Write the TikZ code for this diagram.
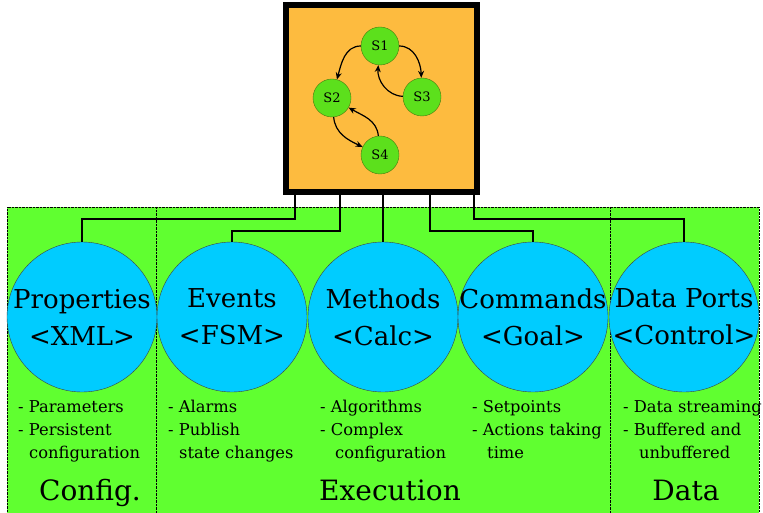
\documentclass[tikz,border=0pt]{standalone}
\usepackage{fontspec}
\setmainfont{DejaVu Serif}
\usetikzlibrary{arrows.meta}

\definecolor{fsmorange}{HTML}{FDBB3F}
\definecolor{layergreen}{HTML}{60FF30}
\definecolor{partcyan}{HTML}{00CCFF}
\definecolor{stategreen}{HTML}{5CE01C}
\definecolor{stateedge}{HTML}{4A7A10}

\tikzset{
  part/.style={circle, draw=black!75, fill=partcyan, minimum size=150pt, inner sep=0pt},
  partname/.style={align=center, inner sep=0pt, font=\fontsize{26}{37}\selectfont},
  state/.style={circle, draw=stateedge, fill=stategreen, minimum size=38pt, inner sep=0pt, font=\fontsize{13}{14}\selectfont},
  trans/.style={-{Stealth[length=7pt,width=6pt]}, line width=1.2pt},
  wire/.style={line width=2.4pt},
  notes/.style={anchor=north west, inner sep=0pt, align=left, font=\fontsize{16.3}{23}\selectfont},
  layer/.style={anchor=base, font=\fontsize{28}{30}\selectfont},
}

\begin{document}
\begin{tikzpicture}[x=1pt,y=-1pt]
\useasboundingbox (0,0) rectangle (763,513);

% green band with the three layers
\fill[layergreen] (7,207) rectangle (759,513);
\draw[densely dotted] (7,513) -- (7,207) -- (759,207) -- (759,513);
\draw[densely dotted] (156,207) -- (156,513);
\draw[densely dotted] (610,207) -- (610,513);

% component parts
\foreach \part/\x/\name/\lang in {props/82/Properties/XML, events/232/Events/FSM,
    meths/383/Methods/Calc, cmds/533/Commands/Goal, data/684/Data Ports/Control}{
  \node[part] (\part) at (\x,317) {};
  \node[partname] (\part name) at (\part) {\name\\<\lang>};
}

% state machine on top
\node[draw, line width=5.5pt, fill=fsmorange, minimum width=191pt, minimum height=187pt, inner sep=0pt] (fsm) at (381.5,98.5) {};
\node[state] (s1) at (380,46) {S1};
\node[state] (s2) at (332,98) {S2};
\node[state] (s3) at (422,97) {S3};
\node[state] (s4) at (380,155) {S4};
\draw[trans] (s1) to[out=180,in=75] (s2);
\draw[trans] (s1) to[out=0,in=92] (s3);
\draw[trans] (s3) to[out=178,in=-95] (s1);
\draw[trans] (s2) to[out=-85,in=155] (s4);
\draw[trans] (s4) to[out=95,in=-30] (s2);

% wiring from the state machine down to the parts
\foreach \part/\dx/\rise in {props/-86.5/23, events/-41.5/11, cmds/48.5/11, data/92.5/23}
  \draw[wire] ([xshift=\dx pt]fsm.south) |- ([yshift=\rise pt]\part.north) -- (\part.north);
\draw[wire] (fsm.south -| meths.north) -- (meths.north);

% notes under each part
\node[notes] (propsnotes) at ([xshift=-64pt,yshift=-8pt]props.south) {- Parameters\\- Persistent\\\hspace*{11pt}configuration};
\node[notes] (eventsnotes) at ([xshift=-64pt,yshift=-8pt]events.south) {- Alarms\\- Publish\\\hspace*{11pt}state changes};
\node[notes] (methsnotes) at ([xshift=-63pt,yshift=-8pt]meths.south) {- Algorithms\\- Complex\\\hspace*{15pt}configuration};
\node[notes] (cmdsnotes) at ([xshift=-61pt,yshift=-8pt]cmds.south) {- Setpoints\\- Actions taking\\\hspace*{15pt}time};
\node[notes] (datanotes) at ([xshift=-61pt,yshift=-8pt]data.south) {- Data streaming\\- Buffered and\\\hspace*{16pt}unbuffered};

% layer names
\node[layer] (config) at (90,500) {Config.};
\node[layer] (exec) at (390,500) {Execution};
\node[layer] (datalayer) at (686,500) {Data};
\end{tikzpicture}
\end{document}
